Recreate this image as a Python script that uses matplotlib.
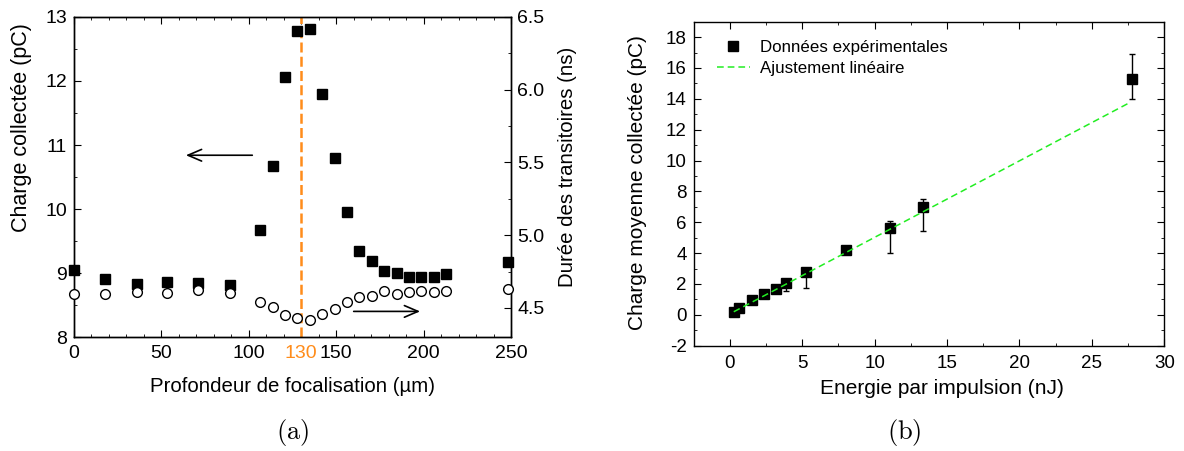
import matplotlib
matplotlib.use('Agg')
import matplotlib.pyplot as plt
import numpy as np
from matplotlib.ticker import MultipleLocator

plt.rcParams['font.family'] = ['Liberation Sans', 'DejaVu Sans']
plt.rcParams['mathtext.fontset'] = 'cm'
plt.rcParams['axes.unicode_minus'] = False

# (a) profondeur de focalisation
depth = [0, 18, 36, 53, 71, 89, 106.6, 113.7, 120.9, 127.8, 135, 142.1, 149.1,
         156.2, 163.2, 170.3, 177.3, 184.6, 191.6, 198.7, 206, 213, 248.4]
charge = [9.04, 8.90, 8.83, 8.86, 8.85, 8.82, 9.67, 10.67, 12.07, 12.78, 12.81,
          11.79, 10.79, 9.96, 9.35, 9.18, 9.03, 9.00, 8.93, 8.94, 8.94, 8.98, 9.17]
duree = [4.594, 4.596, 4.608, 4.605, 4.62, 4.605, 4.541, 4.507, 4.452, 4.431,
         4.418, 4.461, 4.493, 4.541, 4.576, 4.58, 4.615, 4.598, 4.608, 4.615,
         4.608, 4.619, 4.633]
focus = 130

# (b) energie par impulsion
energy = [0.28, 0.66, 1.51, 2.4, 3.18, 3.86, 5.27, 8.0, 11.04, 13.37, 27.75]
q_mean = [0.21, 0.43, 0.97, 1.36, 1.70, 2.05, 2.80, 4.20, 5.61, 6.96, 15.29]
q_low = [0.15, 0.35, 0.85, 1.15, 1.45, 1.57, 1.77, 4.0, 4.0, 5.45, 13.97]
q_high = [0.3, 0.5, 1.05, 1.5, 1.9, 2.3, 3.0, 4.4, 6.1, 7.5, 16.88]
fit_x = [0.28, 27.6]
fit_y = [0.2, 13.75]

fig = plt.figure(figsize=(11.84, 4.51), dpi=100)
W, H = 1184, 451

orange = '#ff8c1a'

# ---- panel (a)
ax1 = fig.add_axes([74 / W, 1 - 337 / H, (511 - 74) / W, (337 - 17) / H])
ax2 = ax1.twinx()
ax1.plot(depth, charge, 's', color='black', ms=6.8, clip_on=False, zorder=3)
ax2.plot(depth, duree, 'o', mfc='white', mec='black', mew=1, ms=7,
         clip_on=False, zorder=3)
ax1.axvline(focus, color=orange, lw=1.8, ls=(0, (4, 1.7)), zorder=2)
ax1.set_xlim(0, 250)
ax1.set_ylim(8, 13)
ax2.set_ylim(4.3, 6.5)
ax1.set_xticks([0, 50, 100, focus, 150, 200, 250])
ax1.xaxis.set_minor_locator(MultipleLocator(10))
ax1.yaxis.set_major_locator(MultipleLocator(1))
ax1.yaxis.set_minor_locator(MultipleLocator(0.5))
ax2.yaxis.set_major_locator(MultipleLocator(0.5))
ax2.yaxis.set_minor_locator(MultipleLocator(0.25))
ax2.yaxis.set_major_formatter('{x:.1f}')
ax1.tick_params(which='both', top=True, right=False, direction='in', labelsize=14)
ax1.tick_params(which='major', length=5, pad=5)
ax1.tick_params(which='minor', length=2.5)
ax1.tick_params(axis='x', which='major', pad=6)
ax2.tick_params(which='major', length=5, direction='in', labelsize=14, pad=4.5)
ax2.tick_params(which='minor', length=2.5, direction='in')
for lab in ax1.get_xticklabels():
    if lab.get_text() == str(focus):
        lab.set_color(orange)
ax1.set_xlabel('Profondeur de focalisation (µm)', fontsize=14.7, va='center')
ax1.xaxis.set_label_coords(0.5, -0.1553)
ax1.set_ylabel('Charge collectée (pC)', fontsize=15.5, va='center')
ax1.yaxis.set_label_coords(-0.1197, 0.653)
ax2.set_ylabel('Durée des transitoires (ns)', fontsize=14.7, va='center')
ax2.yaxis.set_label_coords(1.1293, 0.532)
arrow = dict(arrowstyle='->,head_length=0.7,head_width=0.3', lw=1.2,
             color='black', mutation_scale=14, shrinkA=0, shrinkB=0)
ax1.annotate('', xy=(64, 10.84), xytext=(102, 10.84), arrowprops=arrow)
ax1.annotate('', xy=(198, 8.40), xytext=(160, 8.40), arrowprops=arrow)

# ---- panel (b)
ax3 = fig.add_axes([693.5 / W, 1 - 345.7 / H, (1164.3 - 693.5) / W, (345.7 - 21.7) / H])
yerr = [np.array(q_mean) - np.array(q_low), np.array(q_high) - np.array(q_mean)]
ax3.errorbar(energy, q_mean, yerr=yerr, fmt='none', ecolor='black',
             elinewidth=1, capsize=2.2, capthick=1, zorder=2)
ax3.plot(energy, q_mean, 's', color='black', ms=6.6, zorder=3,
         label='Données expérimentales')
ax3.plot(fit_x, fit_y, ls=(0, (4.4, 2.6)), color='#22ee22', lw=1.1, zorder=4,
         label='Ajustement linéaire')
ax3.set_xlim(-2.5, 30)
ax3.set_ylim(-2, 19)
ax3.xaxis.set_major_locator(MultipleLocator(5))
ax3.xaxis.set_minor_locator(MultipleLocator(2.5))
ax3.yaxis.set_major_locator(MultipleLocator(2))
ax3.yaxis.set_minor_locator(MultipleLocator(1))
ax3.tick_params(which='both', top=True, right=True, direction='in', labelsize=13.5)
ax3.tick_params(which='major', length=5, pad=5)
ax3.tick_params(which='minor', length=2.5)
ax3.tick_params(axis='x', which='major', pad=6.5)
ax3.set_xlabel('Energie par impulsion (nJ)', fontsize=15, va='center')
ax3.xaxis.set_label_coords(0.527, -0.1336)
ax3.set_ylabel('Charge moyenne collectée (pC)', fontsize=15, va='center')
ax3.yaxis.set_label_coords(-0.120, 0.504)
ax3.legend(loc='upper left', frameon=False, fontsize=12.2, handlelength=1.96,
           borderaxespad=0.6, labelspacing=0.35, handletextpad=0.6,
           bbox_to_anchor=(0.013, 0.995))

for ax in (ax1, ax2, ax3):
    for s in ax.spines.values():
        s.set_linewidth(1)

fig.text(293 / W, 1 - 432 / H, r'$\mathrm{(a)}$', fontsize=19, ha='center', va='center')
fig.text(904 / W, 1 - 432 / H, r'$\mathrm{(b)}$', fontsize=19, ha='center', va='center')

fig.savefig('out.png', dpi=100)
